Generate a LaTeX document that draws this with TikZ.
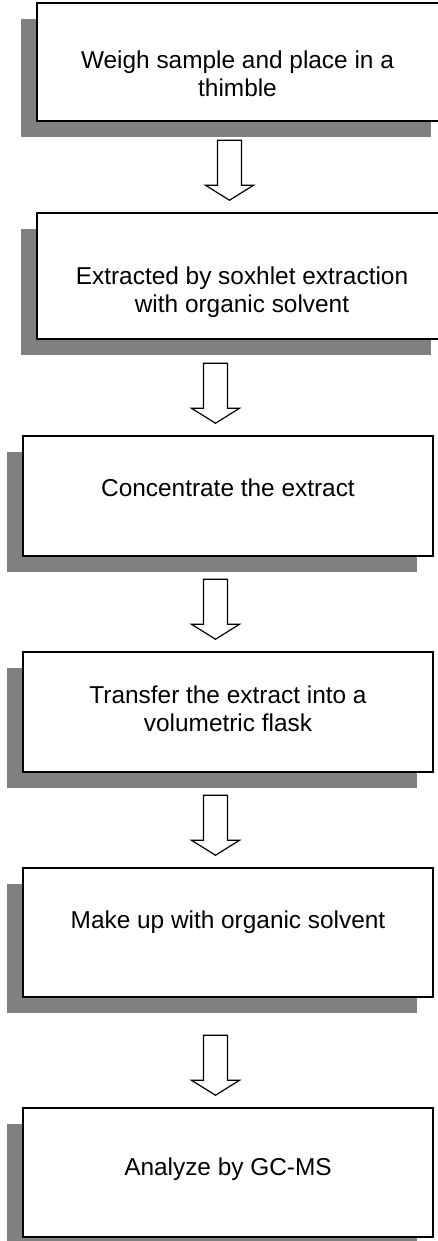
\documentclass[tikz,border=0pt]{standalone}
\usepackage{fontspec}
\setmainfont{Liberation Sans}
\usetikzlibrary{shadows,calc}

\begin{document}
\begin{tikzpicture}[x=1pt, y=-1pt,
   stepbox/.style={draw, line width=1.5pt, fill=white, minimum width=410pt,
      general shadow={fill=gray, shadow xshift=-16pt, shadow yshift=-16pt}},
   steptext/.style={align=center, inner sep=0pt,
      font=\fontsize{24.4}{27.8}\selectfont},
   blockarrow/.style={draw, line width=1.2pt, fill=white, line join=miter}]
   \useasboundingbox (0,0) rectangle (437,1241);
   \def \Steps {
      1/242/62/118/-4.5/12/{Weigh sample and place in a\\thimble},
      2/242/276/126/0/16/{Extracted by soxhlet extraction\\with organic solvent},
      3/228/496/120/0/-8/{Concentrate the extract},
      4/228/712/120/0/-3/{Transfer the extract into a\\volumetric flask},
      5/228/932.5/129/0/-10/{Make up with organic solvent},
      6/228/1172.5/129/0/-3/{Analyze by GC-MS}}
   \foreach \u / \x / \y / \h / \dx / \dy / \t in \Steps {
      \node[stepbox, minimum height=\h pt] (\u) at (\x, \y) {};
      \node[steptext] (t\u) at ($(\u.center)+(\dx, \dy)$) {\t};
   }
   \foreach \v in {2, 3, 4, 5, 6} {
      \coordinate (m\v) at ($(\v.north)+(-12.5, -42)$);
      \draw[blockarrow] ($(m\v)+(-12, -30)$) -- ++(24, 0) -- ++(0, 45)
         -- ++(12, 0) -- ++(-24, 15) -- ++(-24, -15) -- ++(12, 0) -- cycle;
   }
\end{tikzpicture}
\end{document}
